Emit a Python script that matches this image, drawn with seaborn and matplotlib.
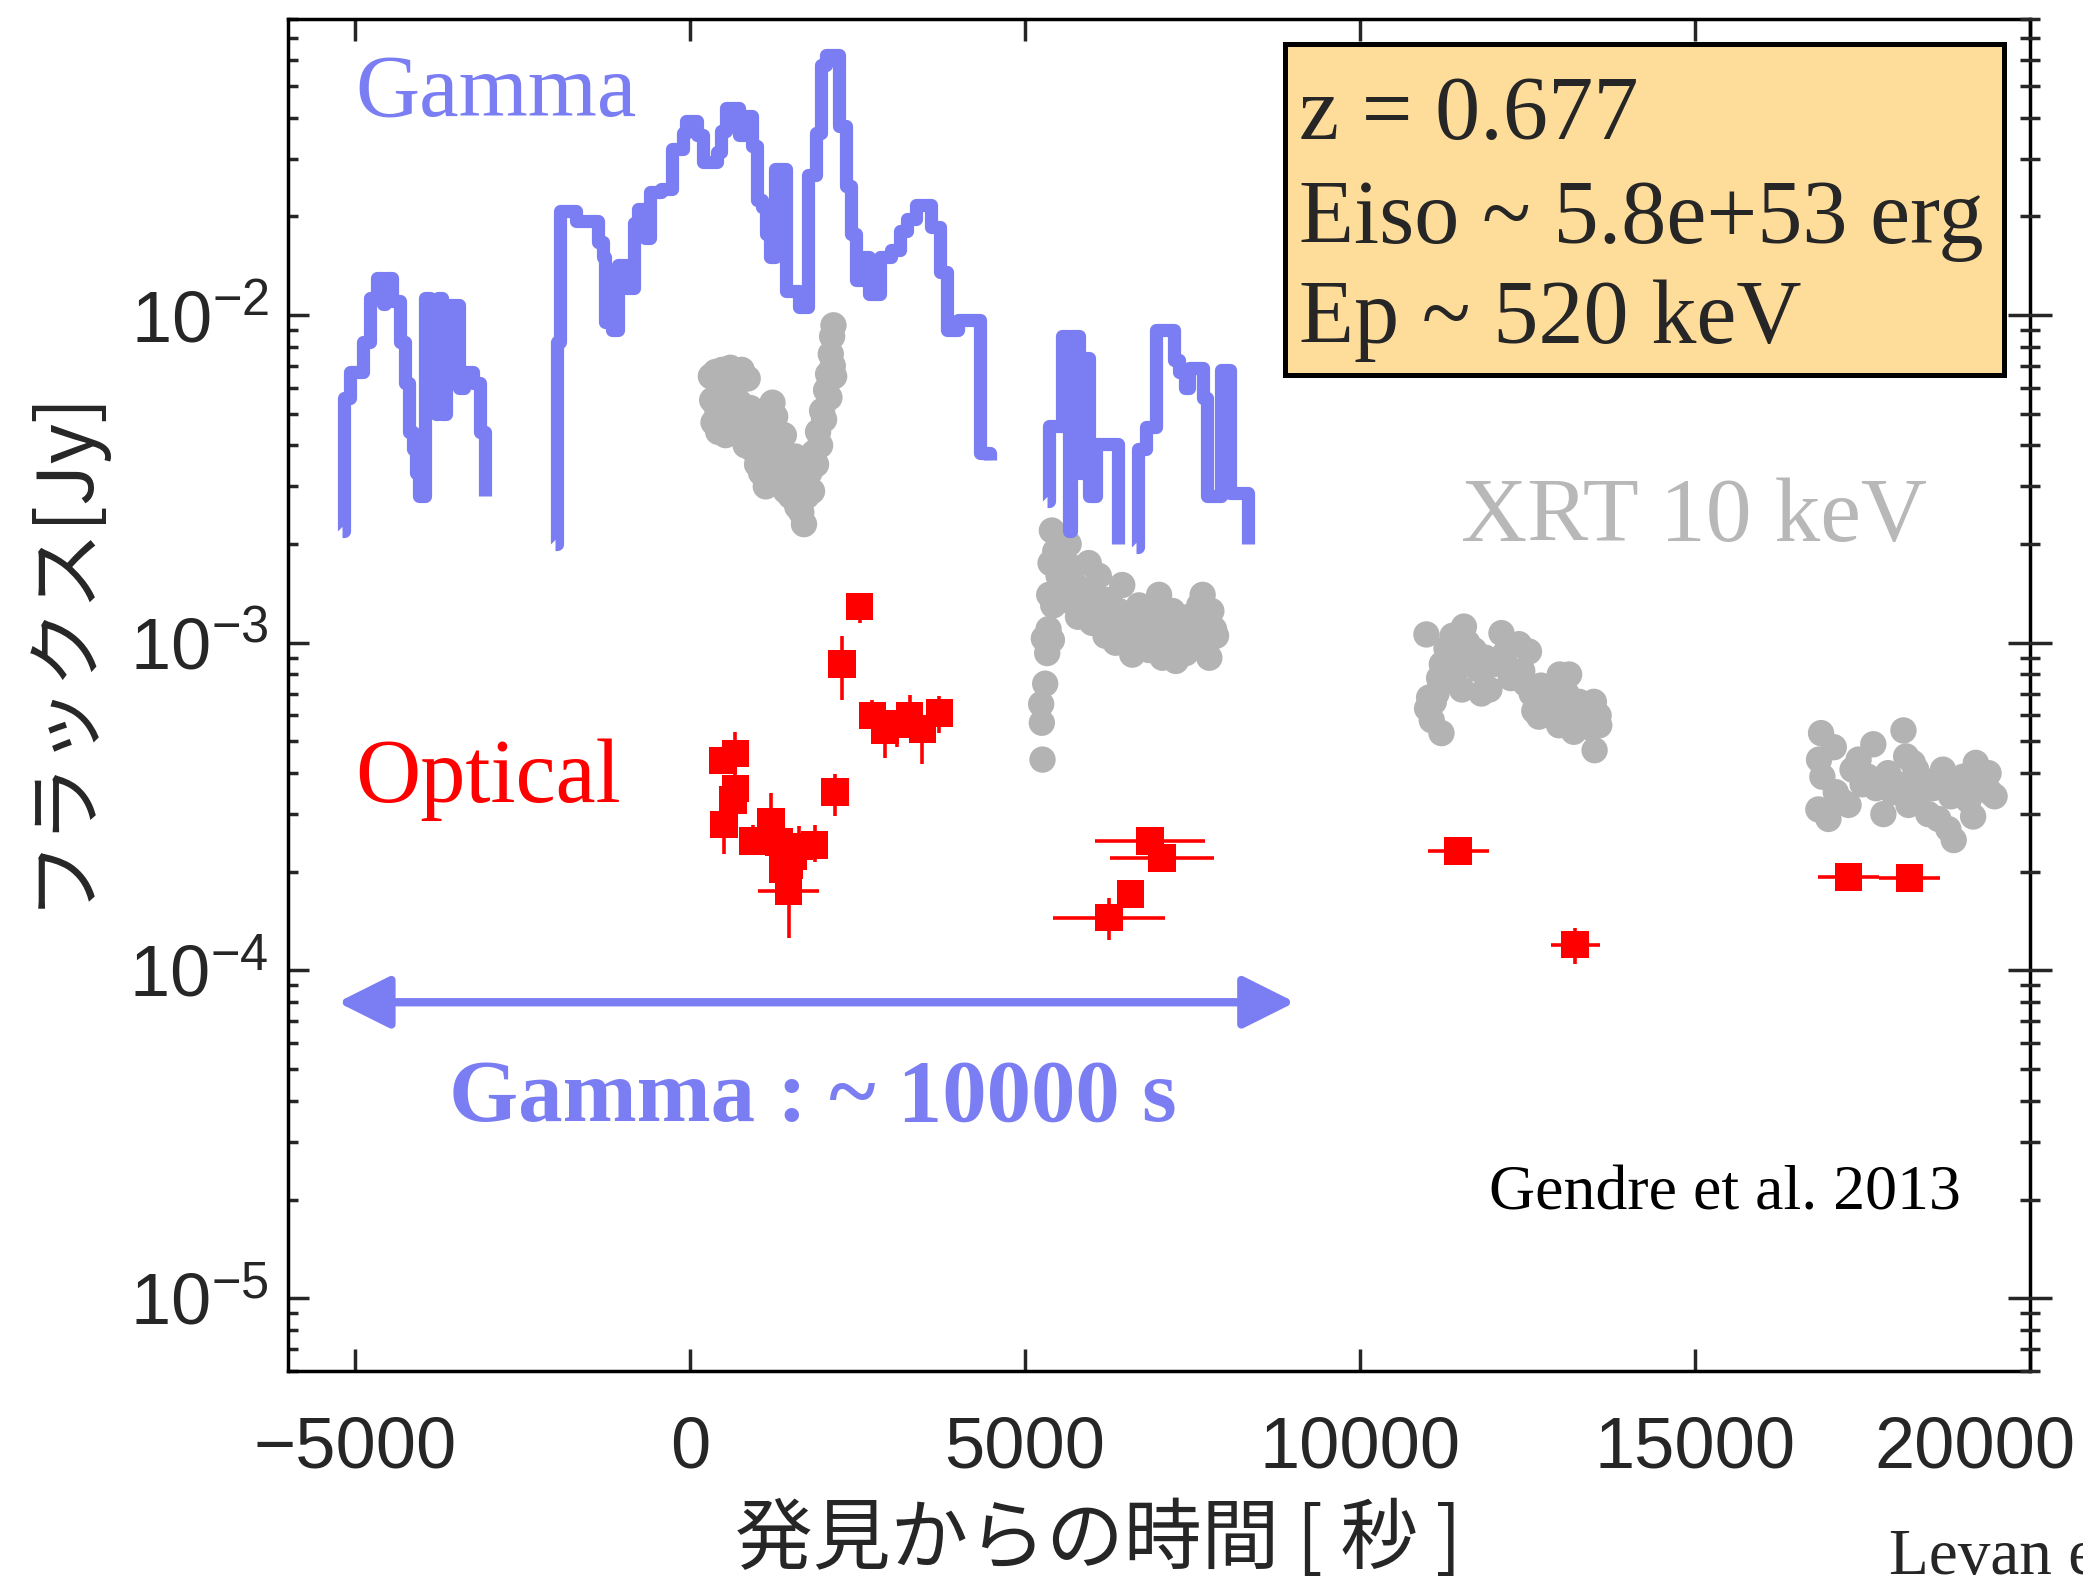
import numpy as np
import pandas as pd
import matplotlib
matplotlib.use("Agg")
import matplotlib.pyplot as plt
import matplotlib.transforms as mtransforms
import seaborn as sns
from matplotlib.patches import Rectangle
from matplotlib.ticker import LogLocator, NullFormatter, FixedLocator, FuncFormatter

# ---------------- data ----------------
# Gamma-ray light curve (step curve), four separate pieces
gamma_t1 = [-5200, -5170, -5070, -4880, -4780, -4680, -4590, -4560, -4450, -4330, -4250, -4200,
            -4140, -4090, -4040, -3950, -3880, -3850, -3790, -3760, -3700, -3640, -3450, -3380,
            -3240, -3140, -3060]
gamma_f1 = [2.2e-3, 5.6e-3, 6.7e-3, 8.3e-3, 1.13e-2, 1.3e-2, 1.08e-2, 1.3e-2, 1.1e-2, 8.3e-3, 6.2e-3, 4.4e-3,
            3.9e-3, 3.3e-3, 2.8e-3, 1.13e-2, 5.5e-3, 1.1e-2, 5.0e-3, 1.13e-2, 5.0e-3, 1.07e-2, 6.0e-3, 6.7e-3,
            6.2e-3, 4.4e-3, 2.8e-3]

gamma_t2 = [-2010, -1990, -1940, -1700, -1370, -1300, -1270, -1170, -1070, -950,
            -840, -780, -670, -600, -430, -270, -100, -60, 100, 200,
            400, 467, 530, 730, 800, 930, 1000, 1067, 1133, 1200,
            1270, 1430, 1630, 1760, 1880, 1960, 2030, 2230, 2330, 2400,
            2470, 2600, 2667, 2830, 3000, 3133, 3233, 3367, 3600, 3733,
            3833, 4000, 4333, 4470]
gamma_f2 = [2.0e-3, 8.3e-3, 2.07e-2, 1.94e-2, 1.67e-2, 1.5e-2, 9.5e-3, 9.0e-3, 1.42e-2, 1.21e-2,
            1.91e-2, 2.1e-2, 1.72e-2, 2.37e-2, 2.43e-2, 3.22e-2, 3.6e-2, 3.9e-2, 3.54e-2, 2.93e-2,
            3.14e-2, 3.63e-2, 4.27e-2, 3.54e-2, 4.04e-2, 3.27e-2, 2.24e-2, 2.13e-2, 1.77e-2, 1.5e-2,
            2.78e-2, 1.18e-2, 1.06e-2, 2.67e-2, 3.59e-2, 5.81e-2, 6.21e-2, 3.78e-2, 2.47e-2, 1.77e-2,
            1.28e-2, 1.5e-2, 1.16e-2, 1.5e-2, 1.58e-2, 1.81e-2, 1.96e-2, 2.16e-2, 1.86e-2, 1.35e-2,
            9.0e-3, 9.66e-3, 3.8e-3, 3.6e-3]

gamma_t3 = [5330, 5360, 5550, 5660, 5690, 5800, 5860, 5960, 6060, 6380]
gamma_f3 = [2.7e-3, 4.6e-3, 8.6e-3, 2.2e-3, 8.6e-3, 3.3e-3, 7.4e-3, 2.8e-3, 4.05e-3, 2.0e-3]

gamma_t4 = [6650, 6680, 6800, 6950, 7220, 7290, 7380, 7450, 7650, 7720, 7930, 8060, 8330]
gamma_f4 = [1.96e-3, 3.9e-3, 4.56e-3, 9.0e-3, 7.3e-3, 6.7e-3, 6.0e-3, 6.9e-3, 5.6e-3, 2.8e-3,
            6.8e-3, 2.86e-3, 2.0e-3]

# XRT 10 keV points
xrt_t1 = [310, 330, 350, 380, 400, 420, 450, 480, 500, 530, 560, 600, 620, 650, 700, 740, 770, 800,
          830, 860, 900, 930, 960, 1000, 1030, 1060, 1100, 1130, 1170, 1200, 1230, 1270, 1300, 1330,
          1370, 1400, 1430, 1470, 1500, 1530, 1570, 1600, 1630, 1660, 1700, 1740, 1780, 1820, 1850,
          1880, 1910, 1940, 1970, 2000, 2030, 2060, 2080, 2100, 2120, 2130, 2140, 2150]
xrt_f1 = [6.5e-3, 5.5e-3, 4.7e-3, 6.7e-3, 5.2e-3, 4.4e-3, 6.0e-3, 6.8e-3, 5.0e-3, 4.3e-3, 5.8e-3, 6.9e-3,
          5.1e-3, 4.4e-3, 6.2e-3, 5.4e-3, 6.8e-3, 4.6e-3, 4.0e-3, 6.4e-3, 5.2e-3, 3.9e-3, 4.8e-3, 3.5e-3,
          4.3e-3, 3.3e-3, 3.9e-3, 3.0e-3, 4.6e-3, 3.6e-3, 5.4e-3, 4.9e-3, 3.2e-3, 4.0e-3, 3.4e-3, 4.3e-3,
          2.9e-3, 3.6e-3, 2.8e-3, 3.3e-3, 3.7e-3, 2.6e-3, 3.1e-3, 2.5e-3, 2.3e-3, 2.8e-3, 3.3e-3, 2.9e-3,
          3.8e-3, 3.5e-3, 4.4e-3, 4.0e-3, 5.1e-3, 4.8e-3, 5.9e-3, 6.6e-3, 5.6e-3, 7.6e-3, 8.6e-3, 7.0e-3,
          9.3e-3, 6.5e-3]

xrt_t2 = [5260, 5250, 5240, 5300, 5280, 5350, 5400, 5330,
          5400, 5380, 5360, 5420, 5450, 5500, 5550, 5600, 5650, 5700, 5750, 5790, 5850, 5900, 5950,
          6000, 6050, 6100, 6150, 6200, 6250, 6300, 6350, 6400, 6450, 6500, 6550, 6600, 6650, 6700,
          6750, 6800, 6850, 6900, 6950, 7000, 7050, 7100, 7150, 7200, 7250, 7300, 7350, 7400, 7450,
          7500, 7550, 7600, 7650, 7700, 7750, 7780, 7820, 7850]
xrt_f2 = [4.4e-4, 5.7e-4, 6.5e-4, 7.5e-4, 1.03e-3, 1.1e-3, 1.02e-3, 9.3e-4,
          2.2e-3, 1.75e-3, 1.4e-3, 1.3e-3, 1.9e-3, 1.6e-3, 1.45e-3, 1.35e-3, 2.0e-3, 1.7e-3, 1.5e-3,
          1.2e-3, 1.45e-3, 1.3e-3, 1.75e-3, 1.15e-3, 1.4e-3, 1.6e-3, 1.25e-3, 1.05e-3, 1.35e-3, 1.15e-3,
          1.0e-3, 1.25e-3, 1.5e-3, 1.2e-3, 1.05e-3, 9.2e-4, 1.15e-3, 1.3e-3, 1.0e-3, 1.2e-3, 9.5e-4,
          1.1e-3, 1.3e-3, 1.4e-3, 9.0e-4, 1.15e-3, 1.05e-3, 1.25e-3, 8.8e-4, 1.0e-3, 1.15e-3, 9.3e-4,
          1.2e-3, 1.05e-3, 1.1e-3, 1.3e-3, 1.4e-3, 1.0e-3, 9.0e-4, 1.25e-3, 1.1e-3, 1.05e-3]

xrt_t3 = [10990, 11000, 11030, 11070, 11100, 11140, 11180, 11215, 11220, 11250, 11290, 11330, 11380,
          11420, 11470, 11520, 11550, 11600, 11650, 11700, 11760, 11810, 11870, 11930, 11980, 12040,
          12110, 12150, 12200, 12250, 12300, 12370, 12420, 12470, 12520, 12560, 12600, 12670, 12700,
          12750, 12800, 12850, 12900, 12970, 12980, 13030, 13080, 13120, 13190, 13230, 13270, 13320,
          13380, 13440, 13490, 13530, 13560, 13570, 13500]
xrt_f3 = [1.06e-3, 6.3e-4, 6.8e-4, 5.8e-4, 6.6e-4, 7.0e-4, 7.8e-4, 5.3e-4, 8.6e-4, 7.6e-4, 9.6e-4, 9.2e-4,
          1.05e-3, 8.2e-4, 9.8e-4, 7.2e-4, 1.12e-3, 1.0e-3, 8.8e-4, 9.5e-4, 8.3e-4, 7.0e-4, 9.0e-4, 7.2e-4,
          8.6e-4, 8.65e-4, 1.07e-3, 9.2e-4, 8.4e-4, 7.8e-4, 8.0e-4, 9.9e-4, 8.2e-4, 7.5e-4, 9.4e-4, 7.0e-4,
          6.2e-4, 5.95e-4, 7.4e-4, 7.2e-4, 6.6e-4, 6.8e-4, 6.0e-4, 5.6e-4, 8.0e-4, 6.4e-4, 7.0e-4, 8.0e-4,
          5.35e-4, 6.2e-4, 6.6e-4, 5.8e-4, 6.3e-4, 5.5e-4, 6.6e-4, 5.9e-4, 6.0e-4, 5.6e-4, 4.7e-4]

xrt_t4 = [16880, 16850, 16840, 16900, 16990, 17070, 17100, 17180, 17290, 17350, 17440, 17500, 17580,
          17660, 17700, 17810, 17880, 17950, 18040, 18110, 18150, 18185, 18250, 18300, 18350, 18410,
          18480, 18550, 18630, 18700, 18780, 18820, 18860, 18920, 19000, 19080, 19150, 19190, 19250,
          19300, 19380, 19400, 19470]
xrt_f4 = [5.3e-4, 4.4e-4, 3.1e-4, 3.9e-4, 2.9e-4, 4.8e-4, 3.5e-4, 3.3e-4, 3.2e-4, 4.1e-4, 4.4e-4, 3.7e-4,
          3.9e-4, 4.9e-4, 3.6e-4, 3.0e-4, 4.0e-4, 3.5e-4, 3.7e-4, 5.4e-4, 4.5e-4, 3.2e-4, 4.3e-4, 4.1e-4,
          3.5e-4, 3.8e-4, 3.0e-4, 3.6e-4, 2.9e-4, 4.1e-4, 2.7e-4, 3.4e-4, 2.5e-4, 3.7e-4, 3.9e-4, 3.3e-4,
          2.95e-4, 4.3e-4, 3.6e-4, 3.9e-4, 4.0e-4, 3.5e-4, 3.4e-4]

# Optical points with error bars
opt_t = [490, 677, 677, 644, 510, 937, 1210, 1323, 1623, 1857, 1537, 1470, 1477, 1392, 2163, 2270,
         2529, 2722, 2909, 3275, 3468, 3722, 3095, 6867, 7040, 6574, 6254, 11463, 13213, 17291, 18199]
opt_f = [4.37e-4, 4.59e-4, 3.59e-4, 3.31e-4, 2.79e-4, 2.49e-4, 2.85e-4, 2.46e-4, 2.39e-4, 2.41e-4,
         2.24e-4, 1.75e-4, 2.09e-4, 2.04e-4, 3.50e-4, 8.59e-4, 1.29e-3, 6.0e-4, 5.42e-4, 5.98e-4,
         5.46e-4, 6.1e-4, 5.65e-4, 2.48e-4, 2.20e-4, 1.71e-4, 1.45e-4, 2.32e-4, 1.20e-4, 1.93e-4, 1.92e-4]
opt_lo = [4.0e-4, 4.2e-4, 3.2e-4, 2.95e-4, 2.27e-4, 2.26e-4, 2.6e-4, 2.2e-4, 2.1e-4, 2.15e-4,
          2.0e-4, 1.26e-4, 1.85e-4, 1.8e-4, 2.97e-4, 6.71e-4, 1.15e-3, 5.6e-4, 4.46e-4, 5.5e-4,
          4.26e-4, 5.32e-4, 4.81e-4, 2.3e-4, 2.05e-4, 1.6e-4, 1.24e-4, 2.2e-4, 1.05e-4, 1.85e-4, 1.85e-4]
opt_hi = [4.8e-4, 5.33e-4, 4.0e-4, 3.7e-4, 3.1e-4, 2.77e-4, 3.47e-4, 2.75e-4, 2.75e-4, 2.77e-4,
          2.5e-4, 2.0e-4, 2.35e-4, 2.3e-4, 3.98e-4, 1.045e-3, 1.42e-3, 6.71e-4, 5.8e-4, 6.93e-4,
          5.9e-4, 6.9e-4, 6.1e-4, 2.65e-4, 2.35e-4, 1.82e-4, 1.66e-4, 2.45e-4, 1.35e-4, 2.0e-4, 2.0e-4]
opt_xerr = [0, 0, 0, 0, 0, 0, 0, 0, 0, 0, 0, 450, 0, 0, 0, 0, 0, 0, 0, 0, 0, 0, 0,
            820, 780, 0, 830, 455, 365, 450, 460]

# Gamma duration arrow
arrow_t = [-5260, 9030]
arrow_f = 8.0e-5

x_ticks = [-5000, 0, 5000, 10000, 15000, 20000]
box_lines = ["z = 0.677", "Eiso ~ 5.8e+53 erg", "Ep ~ 520 keV"]

# ---------------- style ----------------
BLUE = "#7B7EF2"
GRAY = "#B3B3B3"
RED = "#FF0000"
BOXC = "#FEDD9B"

sns.set_style("white")
plt.rcParams["font.family"] = ["Liberation Sans", "DejaVu Sans"]
plt.rcParams["mathtext.fontset"] = "custom"
plt.rcParams["mathtext.rm"] = "Liberation Sans"
plt.rcParams["mathtext.it"] = "Liberation Sans:italic"
plt.rcParams["mathtext.bf"] = "Liberation Sans:bold"
plt.rcParams["axes.unicode_minus"] = True

SERIF = ["Liberation Serif", "DejaVu Serif"]
JP = ["Noto Sans CJK JP", "DejaVu Sans"]

fig = plt.figure(figsize=(20.83, 15.82), dpi=100)
ax = fig.add_axes([0.1383, 0.1334, 0.8363, 0.8546])
ax.set_yscale("log")
ax.set_xlim(-6000, 20000)
ax.set_ylim(6e-6, 8e-2)

# XRT
xrt_df = pd.DataFrame({"t": xrt_t1 + xrt_t2 + xrt_t3 + xrt_t4,
                       "F": xrt_f1 + xrt_f2 + xrt_f3 + xrt_f4})
sns.scatterplot(data=xrt_df, x="t", y="F", s=360, color=GRAY, edgecolor="none",
                linewidth=0, ax=ax, zorder=2, legend=False)

# Gamma step curve
gdf = pd.concat([pd.DataFrame({"t": t, "F": f, "seg": i}) for i, (t, f) in enumerate(
    [(gamma_t1, gamma_f1), (gamma_t2, gamma_f2), (gamma_t3, gamma_f3), (gamma_t4, gamma_f4)])],
    ignore_index=True)
sns.lineplot(data=gdf, x="t", y="F", units="seg", estimator=None, sort=False,
             drawstyle="steps-post", color=BLUE, lw=9.5, solid_joinstyle="round",
             solid_capstyle="butt", ax=ax, zorder=3, legend=False)

# Optical
of = np.array(opt_f)
yerr = [of - np.array(opt_lo), np.array(opt_hi) - of]
ax.errorbar(opt_t, opt_f, yerr=yerr, xerr=opt_xerr, fmt="none", ecolor=RED,
            elinewidth=2.6, capsize=0, zorder=4)
sns.scatterplot(x=opt_t, y=opt_f, marker="s", s=400, color=RED, edgecolor="none",
                linewidth=0, ax=ax, zorder=5, legend=False)

# arrow
ax.annotate("", xy=(arrow_t[1], arrow_f), xytext=(arrow_t[0], arrow_f),
            arrowprops=dict(arrowstyle="<|-|>,head_length=2.0,head_width=1.0",
                            color=BLUE, lw=6, shrinkA=0, shrinkB=0, mutation_scale=16),
            zorder=4)

# texts
ax.text(-5000, 4.05e-2, "Gamma", color=BLUE, fontsize=64, family=SERIF, va="baseline", ha="left")
ax.text(-5000, 3.27e-4, "Optical", color=RED, fontsize=65, family=SERIF, va="baseline", ha="left")
ax.text(11500, 2.05e-3, "XRT 10 keV", color="#B8B8B8", fontsize=66, family=SERIF,
        va="baseline", ha="left")
ax.text(1825, 3.49e-5, "Gamma : ~ 10000 s", color=BLUE, fontsize=64, family=SERIF,
        fontweight="bold", va="baseline", ha="center")
ax.text(18967, 1.87e-5, "Gendre et al. 2013", color="black", fontsize=46, family=SERIF,
        va="baseline", ha="right")

# info box
ax.add_patch(Rectangle((0.572, 0.737), 0.413, 0.2447, transform=ax.transAxes,
                       facecolor=BOXC, edgecolor="black", lw=3.6, zorder=6))
for line, yb in zip(box_lines, [0.9109, 0.8343, 0.7606]):
    ax.text(0.5804, yb, line, transform=ax.transAxes, fontsize=65, family=SERIF,
            va="baseline", ha="left", zorder=7)

fig.text(0.907, 0.005, "Levan et al. 2014", fontsize=47, family=SERIF, va="baseline", ha="left")

# axes labels
ax.set_xlabel("発見からの時間 [ 秒 ]", fontsize=56, family=JP, va="center", ha="center")
ax.xaxis.set_label_coords(0.465, -0.1257)
ax.set_ylabel("フラックス[Jy]", fontsize=56, family=JP, va="center", ha="center")
ax.yaxis.set_label_coords(-0.1309, 0.536)

# ticks
ax.xaxis.set_major_locator(FixedLocator(x_ticks))
ax.xaxis.set_major_formatter(FuncFormatter(lambda v, p: f"{int(v)}".replace("-", "\u2212")))
ax.yaxis.set_major_locator(LogLocator(base=10, numticks=20))
ax.yaxis.set_minor_locator(LogLocator(base=10, subs=np.arange(2, 10), numticks=20))
ax.yaxis.set_minor_formatter(NullFormatter())
ax.tick_params(axis="x", which="major", direction="in", length=16, width=2.5,
               top=True, bottom=True, labelsize=52, pad=32)
ax.tick_params(axis="y", which="major", direction="in", length=15, width=2.5,
               left=True, right=False, labelsize=52, pad=14)
ax.tick_params(axis="y", which="minor", direction="in", length=7, width=2.5,
               left=True, right=False)
for s in ax.spines.values():
    s.set_linewidth(2.5)
    s.set_color("black")

ax2 = ax.twinx()
ax2.set_yscale("log")
ax2.set_ylim(ax.get_ylim())
ax2.yaxis.set_major_locator(LogLocator(base=10, numticks=20))
ax2.yaxis.set_minor_locator(LogLocator(base=10, subs=np.arange(2, 10), numticks=20))
ax2.tick_params(axis="y", which="major", direction="inout", length=32, width=2.5,
                labelright=False)
ax2.tick_params(axis="y", which="minor", direction="inout", length=15, width=2.5)
for s in ax2.spines.values():
    s.set_visible(False)

# the last x tick label sits shifted left in the reference (kept inside the picture)
fig.canvas.draw()
last_lbl = ax.xaxis.get_major_ticks()[-1].label1
last_lbl.set_transform(last_lbl.get_transform() +
                       mtransforms.ScaledTranslation(-0.55, 0, fig.dpi_scale_trans))

fig.savefig("out.png", dpi=100)
